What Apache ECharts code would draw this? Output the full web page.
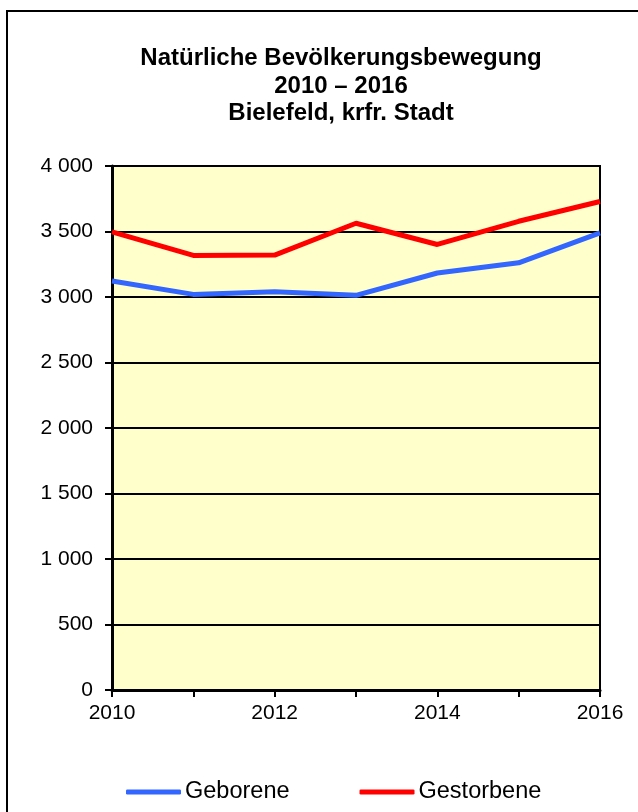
<!DOCTYPE html>
<html>
<head>
<meta charset="utf-8">
<script src="https://cdn.jsdelivr.net/npm/echarts@6/dist/echarts.min.js"></script>
<style>
html,body{margin:0;padding:0;background:#fff;}
#chart{width:638px;height:812px;}
</style>
</head>
<body>
<div id="chart"></div>
<script>
var years = ['2010','2011','2012','2013','2014','2015','2016'];
var geborene = [3122, 3020, 3041, 3013, 3183, 3261, 3490];
var gestorbene = [3497, 3317, 3320, 3563, 3401, 3578, 3729];
var seriesNames = ['Geborene', 'Gestorbene'];
var titleText = 'Natürliche Bevölkerungsbewegung\n2010 – 2016\nBielefeld, krfr. Stadt';

var chart = echarts.init(document.getElementById('chart'), null, {renderer: 'canvas'});
var font = '"Liberation Sans", Arial, sans-serif';
chart.setOption({
  animation: false,
  backgroundColor: '#ffffff',
  graphic: [{
    type: 'rect',
    shape: {x: 7, y: 11, width: 700, height: 900},
    style: {fill: 'none', stroke: '#000', lineWidth: 2},
    z: -1
  }],
  title: {
    text: titleText,
    left: 336,
    top: 40,
    textAlign: 'center',
    textStyle: {fontFamily: font, fontSize: 24, fontWeight: 'bold', color: '#000', lineHeight: 27.5}
  },
  legend: {
    left: 121,
    top: 775,
    itemWidth: 55,
    itemHeight: 5,
    itemGap: 70,
    icon: 'roundRect',
    textStyle: {fontFamily: font, fontSize: 23.5, color: '#000', padding: [0,0,0,-1]},
    data: seriesNames
  },
  grid: {
    left: 112, right: 38, top: 166, bottom: 122,
    show: true,
    backgroundColor: '#FFFFCC',
    borderColor: '#000',
    borderWidth: 2
  },
  xAxis: {
    type: 'category',
    data: years,
    boundaryGap: false,
    axisLine: {lineStyle: {color: '#000', width: 3}},
    axisTick: {show: true, interval: 0, length: 7, lineStyle: {color: '#000', width: 2}},
    axisLabel: {interval: 1, margin: 13, fontFamily: font, fontSize: 21, color: '#000'},
    splitLine: {show: false}
  },
  yAxis: {
    type: 'value',
    min: 0, max: 4000, interval: 500,
    axisLine: {show: true, lineStyle: {color: '#000', width: 3}},
    axisTick: {show: true, length: 7, lineStyle: {color: '#000', width: 2}},
    axisLabel: {
      margin: 19, fontFamily: font, fontSize: 21, color: '#000',
      formatter: function (v) {
        var s = String(v);
        return s.length > 3 ? s.slice(0, s.length - 3) + ' ' + s.slice(-3) : s;
      }
    },
    splitLine: {show: true, lineStyle: {color: '#000', width: 2}}
  },
  series: [{
    name: seriesNames[0],
    type: 'line',
    data: geborene,
    symbol: 'none',
    color: '#3366FF',
    lineStyle: {color: '#3366FF', width: 5}
  }, {
    name: seriesNames[1],
    type: 'line',
    data: gestorbene,
    symbol: 'none',
    color: '#FF0000',
    lineStyle: {color: '#FF0000', width: 5}
  }]
});
</script>
</body>
</html>
